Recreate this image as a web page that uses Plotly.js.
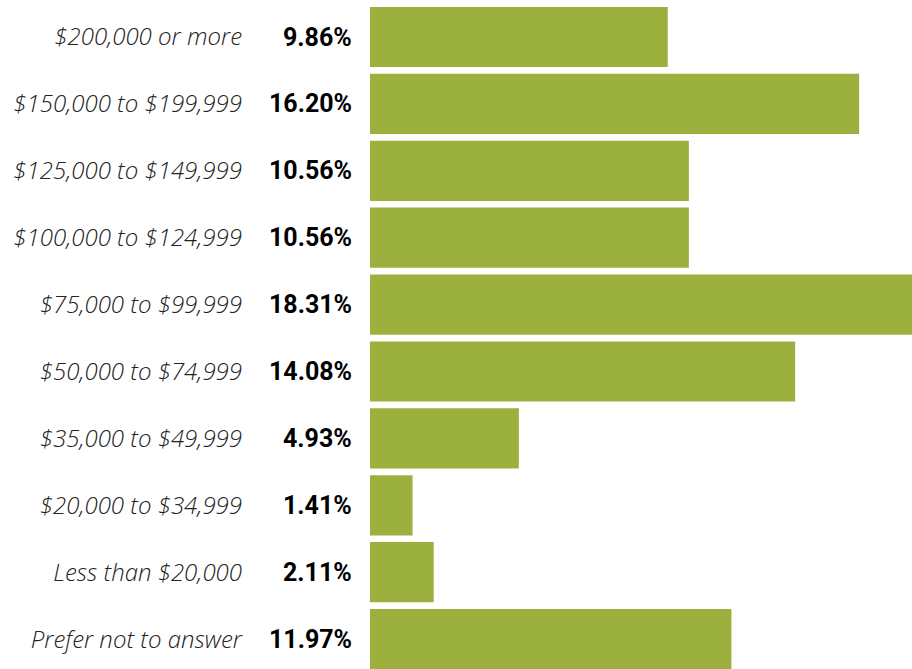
<!DOCTYPE html>
<html>
<head>
<meta charset="utf-8">
<script src="https://cdn.plot.ly/plotly-3.0.1.min.js"></script>
<style>html,body{margin:0;padding:0;background:#fff;}#chart{width:912px;height:669px;}</style>
</head>
<body>
<div id="chart"></div>
<script>
const categories = [
  "$200,000 or more",
  "$150,000 to $199,999",
  "$125,000 to $149,999",
  "$100,000 to $124,999",
  "$75,000 to $99,999",
  "$50,000 to $74,999",
  "$35,000 to $49,999",
  "$20,000 to $34,999",
  "Less than $20,000",
  "Prefer not to answer"
];
const percents = [9.86, 16.20, 10.56, 10.56, 18.31, 14.08, 4.93, 1.41, 2.11, 11.97];
const percentLabels = ["9.86%", "16.20%", "10.56%", "10.56%", "18.31%", "14.08%", "4.93%", "1.41%", "2.11%", "11.97%"];

const trace = {
  type: "bar",
  orientation: "h",
  x: percents,
  y: categories,
  marker: {color: "#9cb13d"},
  hoverinfo: "none"
};

const annotations = categories.map((c, i) => ({
  xref: "paper", yref: "y",
  x: -0.0295, y: c,
  xanchor: "right", yanchor: "middle",
  text: "<b>" + percentLabels[i] + "</b>",
  showarrow: false,
  font: {family: "Roboto, Liberation Sans, sans-serif", size: 25, color: "#000"}
}));

const layout = {
  width: 912, height: 669,
  margin: {l: 370, r: 0, t: 0, b: 0, pad: 0},
  paper_bgcolor: "#fff", plot_bgcolor: "#fff",
  showlegend: false,
  bargap: 0.1,
  xaxis: {range: [0, 17.95], visible: false, fixedrange: true},
  yaxis: {
    type: "category",
    range: [9.447, -0.553],
    showgrid: false, zeroline: false, showline: false, ticks: "",
    ticklabelstandoff: 127,
    tickfont: {family: "Open Sans, sans-serif", size: 24, color: "#222", style: "italic", weight: 300},
    fixedrange: true
  },
  annotations: annotations
};

Plotly.newPlot("chart", [trace], layout, {staticPlot: true, displayModeBar: false});
</script>
</body>
</html>
